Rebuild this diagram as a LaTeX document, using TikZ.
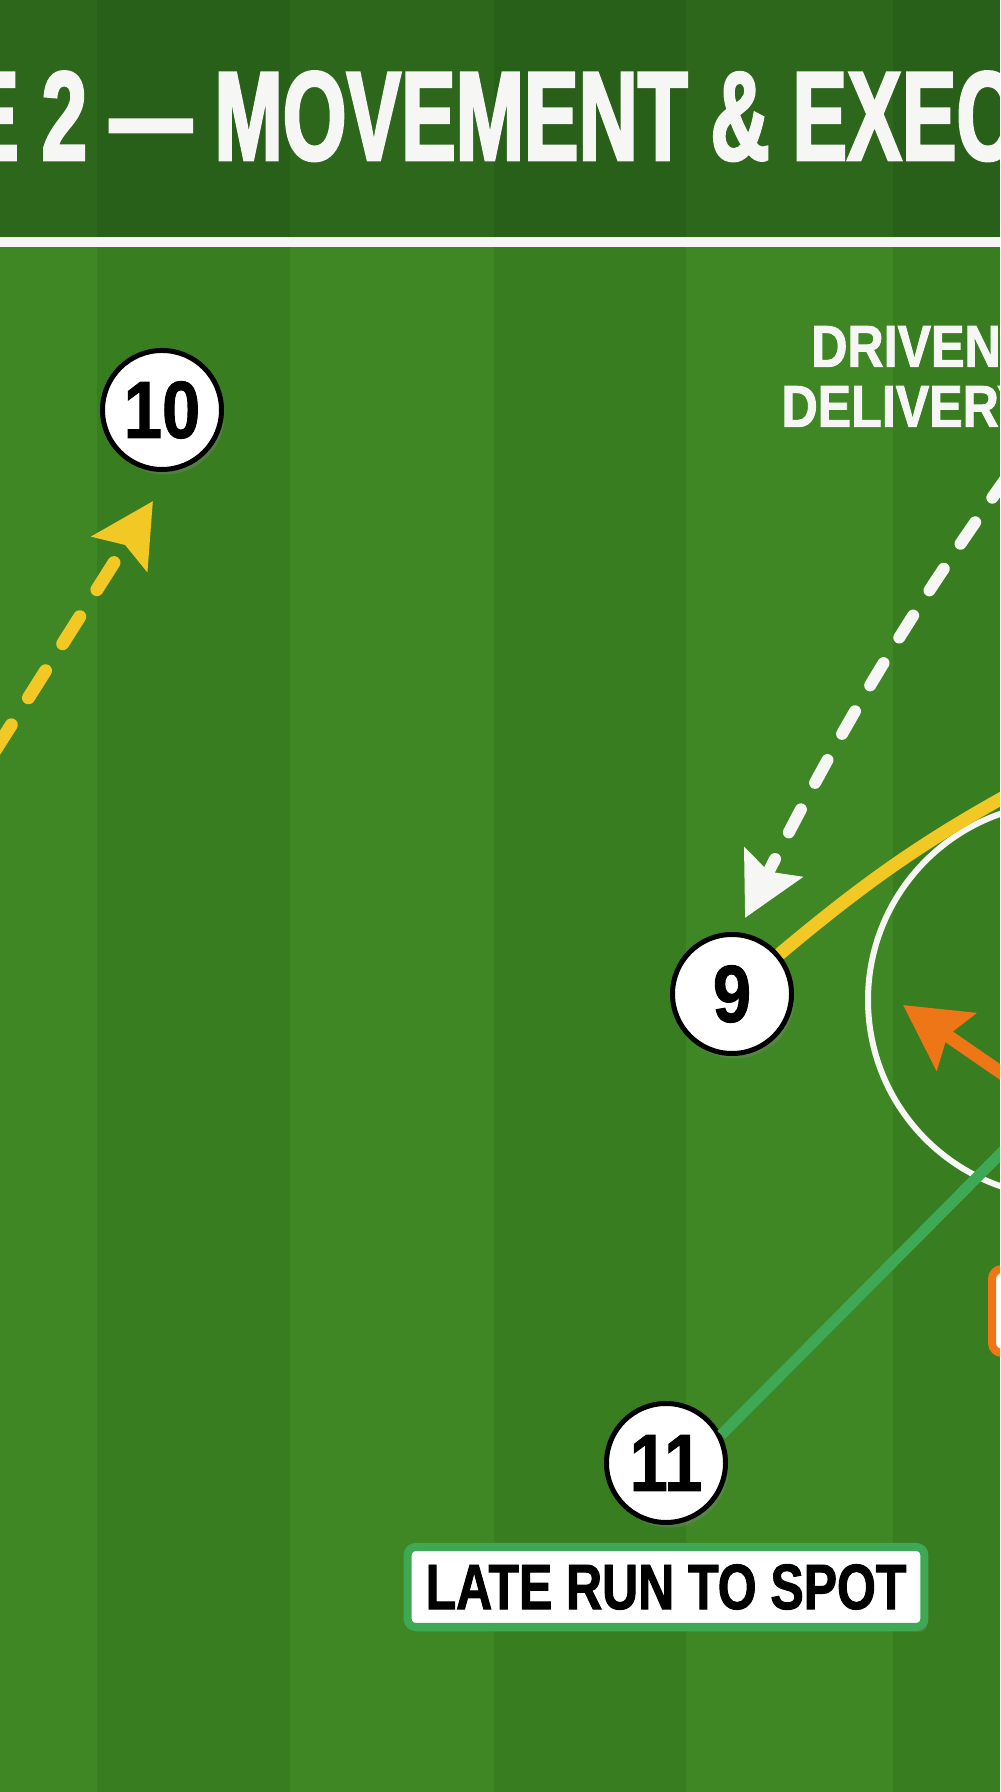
\documentclass[tikz,border=0pt]{standalone}
\usepackage{fontspec}
\setmainfont{Liberation Sans}
\newfontfamily\titlefont[FakeStretch=0.645, BoldFeatures={FakeBold=2}]{Liberation Sans}
\newfontfamily\notefont[FakeStretch=0.85, BoldFeatures={FakeBold=1.5}]{Liberation Sans}
\newfontfamily\tagfont[FakeStretch=0.78, BoldFeatures={FakeBold=1.5}]{Liberation Sans}
\newfontfamily\numfont[FakeStretch=0.85, BoldFeatures={FakeBold=1.1}]{Liberation Sans}
\usetikzlibrary{positioning, arrows.meta, shadows}

\definecolor{fieldA}{RGB}{63,135,37}
\definecolor{fieldB}{RGB}{56,126,33}
\definecolor{bandA}{RGB}{45,103,28}
\definecolor{bandB}{RGB}{40,95,25}
\definecolor{runYellow}{RGB}{242,200,36}
\definecolor{runOrange}{RGB}{238,118,22}
\definecolor{runGreen}{RGB}{62,168,84}
\definecolor{chalk}{RGB}{246,246,244}

\begin{document}
\begin{tikzpicture}[
	x=1bp,
	y=1bp,
	player/.style={circle, draw=black, fill=white, line width=5bp, minimum size=119bp, inner sep=0pt, text=black, font=\numfont\bfseries\fontsize{81bp}{81bp}\selectfont, drop shadow={shadow xshift=3bp, shadow yshift=-5bp, opacity=0.35}},
	run tag/.style={draw=runGreen, fill=white, line width=8bp, rounded corners=8bp, minimum height=80bp, inner xsep=18bp, inner ysep=0pt, text=black, font=\tagfont\bfseries\fontsize{64bp}{64bp}\selectfont, drop shadow={shadow xshift=3bp, shadow yshift=-5bp, opacity=0.35}},
	cue box/.style={draw=runOrange, fill=white, line width=8bp, rounded corners=10bp, minimum width=250bp, minimum height=84bp},
	cue text/.style={text=chalk, align=center, inner sep=0pt, font=\notefont\bfseries\fontsize{59bp}{60bp}\selectfont},
	title text/.style={text=chalk, inner sep=0pt, font=\titlefont\bfseries\fontsize{127bp}{127bp}\selectfont},
	run dashed/.style={line width=13bp, line cap=round, dash pattern=on 32bp off 32bp, -{Stealth[length=62bp, width=64bp, inset=10bp]}},
	pass dashed/.style={line width=12bp, line cap=round, dash pattern=on 26bp off 30bp, -{Stealth[length=62bp, width=64bp, inset=10bp]}},
	run solid/.style={line width=13bp, -{Stealth[length=64bp, width=68bp, inset=10bp]}}
]

\useasboundingbox (0,0) rectangle (1000,1792);
\clip (0,0) rectangle (1000,1792);

\foreach \xa/\xb/\fc/\tc in {0/97/fieldA/bandA, 97/290/fieldB/bandB, 290/494/fieldA/bandA, 494/686/fieldB/bandB, 686/893/fieldA/bandA, 893/1000/fieldB/bandB} {
	\fill[\fc] (\xa,0) rectangle (\xb,1550);
	\fill[\tc] (\xa,1550) rectangle (\xb,1792);
}
\draw[chalk, line width=10bp] (0,1550) -- (1000,1550);

\node[title text, anchor=base west] (ttl) at (-36,1632) {E 2 — MOVEMENT \& EXEC};

\node[circle, draw=chalk, line width=6bp, minimum size=394bp] (ring) at (1065,792) {};

\node[player] (p10) at (162,1382) {10};
\node[player] (p9) at (732,798) {9};
\node[player] (p11) at (666,329) {11};
\node[run tag, below=18bp of p11] (lbl11) {LATE RUN TO SPOT};
\node[cue box, anchor=west] (cue) at (988,481) {};
\node[cue text, anchor=north] (drv) at (906,1466) {DRIVEN\\DELIVERY};

\coordinate[below=29bp of p10, xshift=-9bp] (t10);
\coordinate (s10) at (-40,986);
\coordinate[above=14bp of p9, xshift=13bp] (t9);
\coordinate (s9) at (1040,1361);
\coordinate (y9) at (1050,1020);
\coordinate (o0) at (1045,689);
\coordinate (o1) at (903,787);
\coordinate (g1) at (1040,678);

\draw[runYellow, run dashed] (s10) -- (t10);
\draw[chalk, pass dashed] (s9) to[out=234, in=63] (t9);
\draw[runYellow, line width=13bp] (p9) to[out=40, in=208] (y9);
\draw[runOrange, run solid] (o0) -- (o1);
\draw[runGreen, line width=11bp] (p11.27) -- (g1);

\end{tikzpicture}
\end{document}
